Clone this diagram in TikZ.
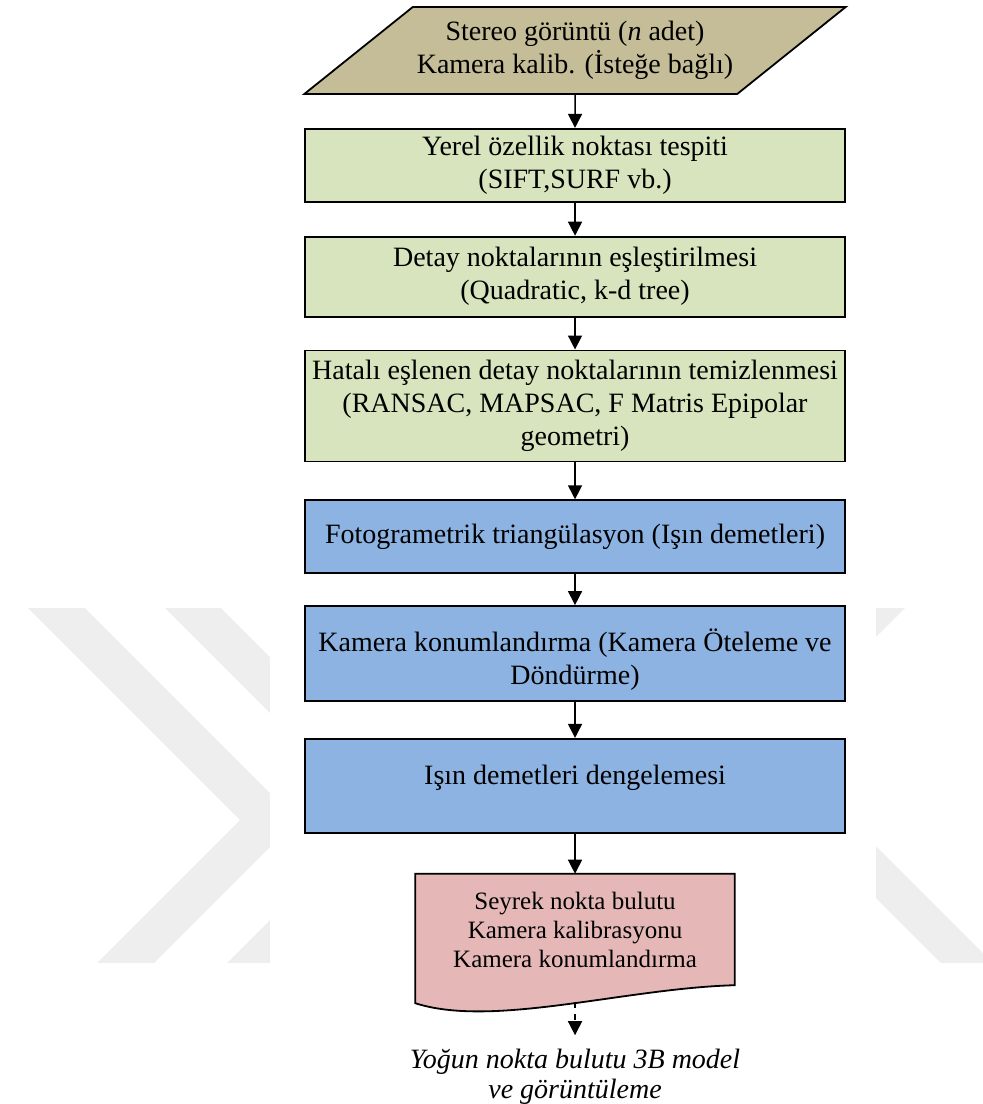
\documentclass[tikz,border=0pt]{standalone}
\usepackage{fontspec}
\setmainfont{Liberation Serif}
\usepackage{tikz}
\usetikzlibrary{arrows.meta,positioning,shapes.geometric,backgrounds}
\definecolor{inputTan}{RGB}{196,189,151}
\definecolor{stepGreen}{RGB}{215,228,189}
\definecolor{stepBlue}{RGB}{141,179,226}
\definecolor{outPink}{RGB}{229,184,183}
\definecolor{markGray}{RGB}{238,238,238}
\newcommand{\boxFont}{\fontsize{14}{16.5}\selectfont}
\newcommand{\outFont}{\fontsize{12.5}{14.5}\selectfont}
\newcommand{\resFont}{\fontsize{14}{15}\selectfont\itshape}

\begin{document}
\begin{tikzpicture}[->,>={Triangle[width=7pt,length=7pt]}, line width=0.75pt, node distance=16.5pt]
        \tikzset{
           inputNode/.style={
                        trapezium,
                        trapezium left angle=31.5,
                        trapezium right angle=148.5,
                        trapezium stretches body,
                        draw=black,
                        line width=0.9pt,
                        fill=inputTan,
                        text=black,
                        minimum width=269.5pt,
                        minimum height=43.5pt,
                        inner sep=2pt,
                        align=center,
                        font=\boxFont
                       },
           matchStep/.style={
                        rectangle,
                        draw=black,
                        line width=0.9pt,
                        fill=stepGreen,
                        text=black,
                        minimum width=270pt,
                        inner sep=2pt,
                        align=center,
                        font=\boxFont
                       },
           bundleStep/.style={
                        rectangle,
                        draw=black,
                        line width=0.9pt,
                        fill=stepBlue,
                        text=black,
                        minimum width=270pt,
                        inner sep=2pt,
                        align=center,
                        font=\boxFont
                       },
           outputDoc/.style={
                        rectangle,
                        text=black,
                        minimum width=159pt,
                        minimum height=55pt,
                        align=center,
                        font=\outFont
                       },
           resultText/.style={
                        text=black,
                        inner xsep=2pt,
                        inner ysep=6.5pt,
                        align=center,
                        font=\resFont
                       },
                 };
    %--------------------
        \useasboundingbox (0,0) rectangle (491.5pt,-552pt);
        % watermark
        \begin{scope}[-, x=0.5pt, y=-0.5pt]
            \begin{scope}
                \clip (0,608) rectangle (270,962);
                \fill[markGray] (-20,560) -- (37,560) -- (297,820) -- (117,1000) -- (60,1000) -- (240,820) -- cycle;
                \fill[markGray] (117,560) -- (173,560) -- (429.5,816.5) -- (246,1000) -- (190,1000) -- (373.5,816.5) -- cycle;
            \end{scope}
            \begin{scope}
                \clip (876,608) rectangle (983,962);
                \fill[markGray] (956,500) -- (1013,500) -- (813,700) -- (756,700) -- cycle;
                \fill[markGray] (830,800) -- (1030,1000) -- (1030,1052) -- (830,852) -- cycle;
            \end{scope}
        \end{scope}
    %--------------------
        \node[inputNode]  (stereo)                                   at (287.5pt,-25.25pt)
              {Stereo görüntü (\textit{n} adet)\\Kamera kalib. (İsteğe bağlı)};

        \node[matchStep]  (yerel)  [below=16.5pt of stereo, minimum height=36.5pt]
              {Yerel özellik noktası tespiti\\(SIFT,SURF vb.)};
        \node[matchStep]  (detay)  [below=16.5pt of yerel, minimum height=40pt]
              {Detay noktalarının eşleştirilmesi\\(Quadratic, k-d tree)};
        \node[matchStep]  (hatali) [below=16pt of detay, minimum height=55.5pt]
              {Hatalı eşlenen detay noktalarının temizlenmesi\\(RANSAC, MAPSAC, F Matris Epipolar\\geometri)};

        \node[bundleStep] (foto)   [below=18.5pt of hatali, minimum height=36.5pt]
              {Fotogrametrik triangülasyon (Işın demetleri)};
        \node[bundleStep] (kamera) [below=15.5pt of foto, minimum height=47.5pt, text height=34pt]
              {Kamera konumlandırma (Kamera Öteleme ve\\Döndürme)};
        \node[bundleStep] (isin)   [below=18pt of kamera, minimum height=47pt, text depth=10.6pt]
              {Işın demetleri dengelemesi};

        \node[outputDoc]  (doc)    [below=20pt of isin]
              {Seyrek nokta bulutu\\Kamera kalibrasyonu\\Kamera konumlandırma};
        \node[resultText] (dense)  [below=25pt of doc]
              {Yoğun nokta bulutu 3B model\\ve görüntüleme};

        \begin{scope}[on background layer]
            \draw[-, line width=0.9pt, fill=outPink] (doc.north west) -- (doc.north east) -- (doc.south east)
                .. controls +(-55pt,-1.5pt) and +(39pt,-12.5pt) .. ([yshift=-9pt]doc.south west) -- cycle;
        \end{scope}
    %--------------------
        \path (stereo) edge (yerel)
              (yerel)  edge (detay)
              (detay)  edge (hatali)

              (hatali) edge (foto)
              (foto)   edge (kamera)
              (kamera) edge (isin)

              (isin)   edge (doc)

              ([yshift=-8.5pt]doc.south) edge[dashed] (dense);
\end{tikzpicture}
\end{document}
